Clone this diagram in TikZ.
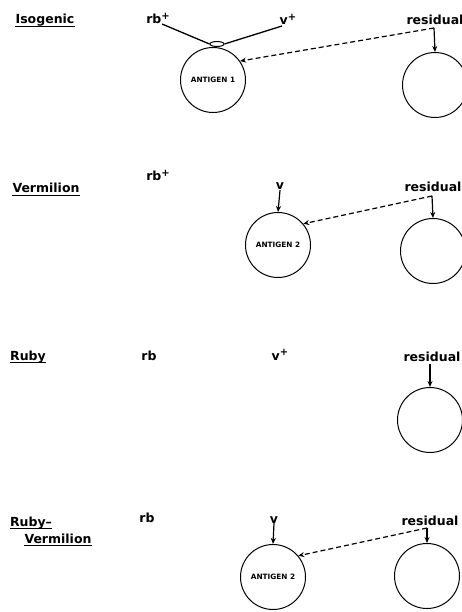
\documentclass[tikz,border=0pt]{standalone}
\usepackage{fontspec}
\setmainfont{DejaVu Sans}
\usetikzlibrary{arrows.meta,shapes.geometric}
\newcommand{\plussup}{\raisebox{4.5pt}{\fontsize{10}{10}\selectfont\bfseries +}}
\tikzset{
  lbl/.style={font=\bfseries\fontsize{12.5}{14}\selectfont, inner sep=0pt, anchor=base},
  ttl/.style={font=\bfseries\fontsize{12.5}{14}\selectfont, inner sep=0pt, anchor=base},
  ag/.style={circle, draw, line width=1pt, minimum size=65pt, inner sep=0pt,
    font=\bfseries\fontsize{7.3}{8}\selectfont},
  solidarr/.style={line width=1.2pt, -{Stealth[length=6pt,width=5pt]}},
  dasharr/.style={line width=1.2pt, dash pattern=on 5pt off 3pt, -{Stealth[length=6pt,width=5pt]}},
  ul/.style={line width=1.7pt},
  gene/.style={line width=1.3pt}
}
\begin{document}
\begin{tikzpicture}[x=1pt,y=-1pt]
\clip (0,0) rectangle (462,612);
\fill[white] (0,0) rectangle (462,612);

% ---------- Panel 1: Isogenic ----------
\node[ttl] (lab1) at (45,24) {Isogenic};
\draw[ul] ([yshift=-2.5pt]lab1.base west) -- ([yshift=-2.5pt]lab1.base east);
\node[lbl] (rb1) at (158,24) {rb\plussup};
\node[lbl] (v1) at (288,25) {v\plussup};
\node[lbl] (res1) at (435,25) {residual};
\node[ag] (A1) at (213,80) {ANTIGEN 1};
\node[ag] (R1) at (435,85) {};
\node[ellipse, draw, line width=1pt, minimum width=14pt, minimum height=5pt, inner sep=0pt] (knot) at (217,44) {};
\coordinate (rbend1) at (162,24);
\coordinate (vend1) at (282,26);
\draw[gene] (rbend1) -- (knot.west);
\draw[gene] (vend1) -- (knot.east);
\coordinate (j1) at (434,28);
\draw[solidarr] (j1) -- (R1.north);
\draw[dasharr] (j1) -- (A1.35);

% ---------- Panel 2: Vermilion ----------
\node[ttl] (lab2) at (46,193) {Vermilion};
\draw[ul] ([yshift=-2.5pt]lab2.base west) -- ([yshift=-2.5pt]lab2.base east);
\node[lbl] (rb2) at (158,181) {rb\plussup};
\node[lbl] (v2) at (280,190) {v};
\node[ag] (A2) at (278,245) {ANTIGEN 2};
\draw[solidarr] (v2.south) -- (A2.north);
\node[lbl] (res2) at (433,192) {residual};
\node[ag] (R2) at (433,251) {};
\coordinate (j2) at (432,196);
\draw[solidarr] (j2) -- (R2.north);
\draw[dasharr] (j2) -- (A2.40);

% ---------- Panel 3: Ruby ----------
\node[ttl] (lab3) at (28,360) {Ruby};
\draw[ul] ([yshift=-2.5pt]lab3.base west) -- ([yshift=-2.5pt]lab3.base east);
\node[lbl] (rb3) at (149,360) {rb};
\node[lbl] (v3) at (280,360) {v\plussup};
\node[lbl] (res3) at (432,361) {residual};
\node[ag] (R3) at (430,420) {};
\coordinate (j3) at (430,364);
\draw[solidarr] (j3) -- (R3.north);

% ---------- Panel 4: Ruby-Vermilion ----------
\node[ttl] (lab4a) at (31,526) {Ruby--};
\draw[ul] ([yshift=-2.5pt]lab4a.base west) -- ([yshift=-2.5pt]lab4a.base east);
\node[ttl] (lab4b) at (58,543) {Vermilion};
\draw[ul] ([yshift=-2.5pt]lab4b.base west) -- ([yshift=-2.5pt]lab4b.base east);
\node[lbl] (rb4) at (147,522) {rb};
\node[lbl] (v4) at (274,523) {v};
\node[ag] (A4) at (273,577) {ANTIGEN 2};
\draw[solidarr] (v4.south) -- (A4.north);
\node[lbl] (res4) at (430,525) {residual};
\node[ag] (R4) at (427,576) {};
\coordinate (j4) at (427,528);
\draw[solidarr] (j4) -- (R4.north);
\draw[dasharr] (j4) -- (A4.40);
\end{tikzpicture}
\end{document}
